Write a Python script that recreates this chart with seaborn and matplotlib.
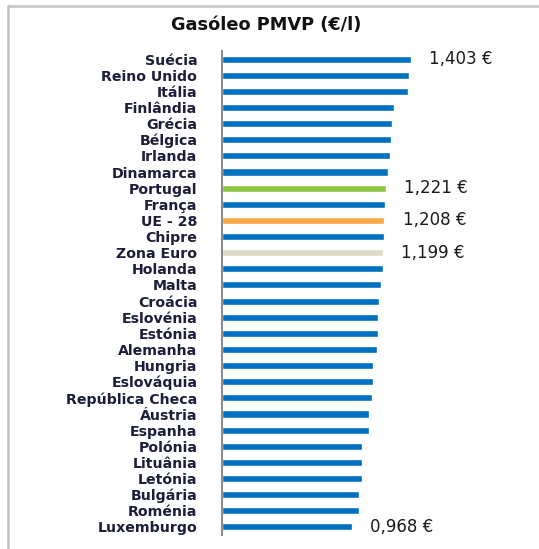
import matplotlib
matplotlib.use("Agg")
import matplotlib.pyplot as plt
from matplotlib.lines import Line2D
import seaborn as sns
import pandas as pd
import numpy as np

countries = ["Suécia", "Reino Unido", "Itália", "Finlândia", "Grécia", "Bélgica",
             "Irlanda", "Dinamarca", "Portugal", "França", "UE - 28", "Chipre",
             "Zona Euro", "Holanda", "Malta", "Croácia", "Eslovénia", "Estónia",
             "Alemanha", "Hungria", "Eslováquia", "República Checa", "Áustria",
             "Espanha", "Polónia", "Lituânia", "Letónia", "Bulgária", "Roménia",
             "Luxemburgo"]
prices = [1.403, 1.391, 1.383, 1.281, 1.266, 1.259, 1.249, 1.232, 1.221, 1.214,
          1.208, 1.202, 1.199, 1.196, 1.180, 1.167, 1.158, 1.157, 1.156, 1.125,
          1.123, 1.115, 1.095, 1.093, 1.043, 1.041, 1.040, 1.021, 1.018, 0.968]
highlight = {"Portugal": "#8DC63F", "UE - 28": "#F9A845", "Zona Euro": "#DEDAC4"}
labelled = ["Suécia", "Portugal", "UE - 28", "Zona Euro", "Luxemburgo"]
title = "Gasóleo PMVP (€/l)"

df = pd.DataFrame({"pais": countries, "preco": prices})
palette = {c: highlight.get(c, "#0070C0") for c in countries}

sns.set_style("white")
plt.rcParams["font.family"] = ["DejaVu Sans"]

W, H = 539, 549
fig = plt.figure(figsize=(W / 100, H / 100), dpi=100)
left, right, top, bottom = 222.3, 539, 51, 535
ax = fig.add_axes([left / W, 1 - bottom / H, (right - left) / W, (bottom - top) / H])

sns.barplot(data=df, x="preco", y="pais", hue="pais", palette=palette,
            legend=False, width=0.44, orient="h", ax=ax, saturation=1)

ax.set_xlim(0, (right - left) / 134.25)
ax.set_ylim(len(countries) - 0.5, -0.5)
ax.set_xlabel("")
ax.set_ylabel("")
ax.set_xticks([])

for s in ["top", "right", "bottom"]:
    ax.spines[s].set_visible(False)
ax.spines["left"].set_color("#8C8C8C")
ax.spines["left"].set_linewidth(1.5)

ax.set_yticks(range(len(countries)))
ax.set_yticklabels(countries, fontsize=10.2, fontweight="bold", color="#1C1F3C")
ax.tick_params(axis="y", which="major", length=0, pad=18)
ax.set_yticks(np.arange(-0.5, len(countries), 1), minor=True)
ax.tick_params(axis="y", which="minor", length=6, width=1, color="#8C8C8C",
               direction="out")

for c, v in zip(countries, prices):
    if c in labelled:
        i = countries.index(c)
        ax.annotate(f"{v:.3f} €".replace(".", ","), xy=(v, i), xytext=(13, 0),
                    textcoords="offset points", va="center", ha="left",
                    fontsize=12, color="#1A1A1A")

fig.text(266 / W, 1 - 25 / H, title, ha="center", va="center",
         fontsize=12.8, fontweight="bold", color="#111111")

# outer frame
fig.add_artist(Line2D([8 / W, 1], [1 - 5.5 / H, 1 - 5.5 / H], transform=fig.transFigure,
                      color="#C4C4C4", lw=1.8))
fig.add_artist(Line2D([8 / W, 8 / W], [1 - 5.5 / H, 0], transform=fig.transFigure,
                      color="#C4C4C4", lw=1.8))

fig.savefig("out.png", dpi=100)
